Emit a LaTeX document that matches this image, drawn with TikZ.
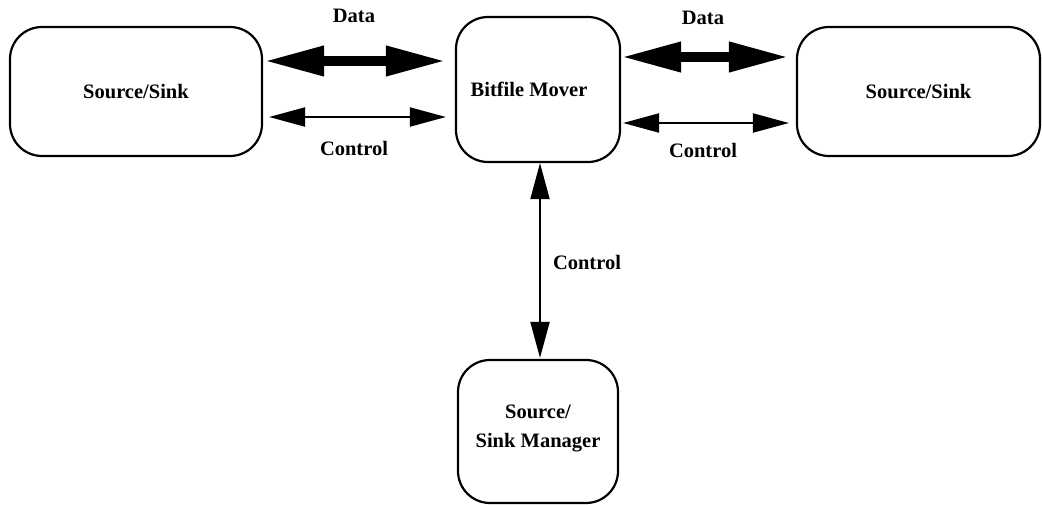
\documentclass[tikz,border=0pt]{standalone}
\usepackage{fontspec}
\setmainfont{Liberation Serif}
\usetikzlibrary{arrows.meta,calc}
\begin{document}
\begin{tikzpicture}[x=1pt,y=-1pt,
  box/.style={draw, line width=2.2pt, rounded corners=32pt, inner sep=0pt},
  lbl/.style={font=\fontsize{20.5}{29}\selectfont\bfseries},
  dataarrow/.style={line width=10pt, {Triangle[length=60pt,width=28pt]}-{Triangle[length=60pt,width=28pt]}},
  ctrlarrow/.style={line width=2pt, {Triangle[length=36pt,width=19pt]}-{Triangle[length=36pt,width=19pt]}}
]
\useasboundingbox (0,0) rectangle (1042,505);
\node[box, minimum width=252pt, minimum height=129pt, lbl] (L) at (136,91.5) {Source/Sink};
\node[box, minimum width=164pt, minimum height=145pt, lbl] (B) at (538,89.5) {Bitfile Mover\hspace*{18pt}};
\node[box, minimum width=243pt, minimum height=129pt, lbl] (R) at (918.5,91.5) {Source/Sink};
\node[box, minimum width=160pt, minimum height=143pt, lbl, align=center] (M) at (538,431.5) {Source/\\Sink Manager\\[-19pt]};

\coordinate (l1) at ($(L.east)+(1,-30.5)$);
\coordinate (l2) at ($(L.east)+(6,25.5)$);
\coordinate (r1) at ($(B.east)+(0,-32.5)$);
\coordinate (r2) at ($(B.east)+(2,33.5)$);

\draw[dataarrow, shorten >=9pt] (l1) -- (l1 -| B.west);
\draw[ctrlarrow, shorten >=9pt] (l2) -- (l2 -| B.west);
\draw[dataarrow, shorten >=7pt] (r1) -- (r1 -| R.west);
\draw[ctrlarrow, shorten >=7pt] (r2) -- (r2 -| R.west);
\draw[ctrlarrow] ($(B.south)+(2,0)$) -- ($(M.north)+(2,-1)$);

\node[lbl] (d1) at (354,16) {Data};
\node[lbl] (c1) at (354,148) {Control};
\node[lbl] (d2) at (703,18) {Data};
\node[lbl] (c2) at (703,150) {Control};
\node[lbl] (c3) at (587,262) {Control};
\end{tikzpicture}
\end{document}
